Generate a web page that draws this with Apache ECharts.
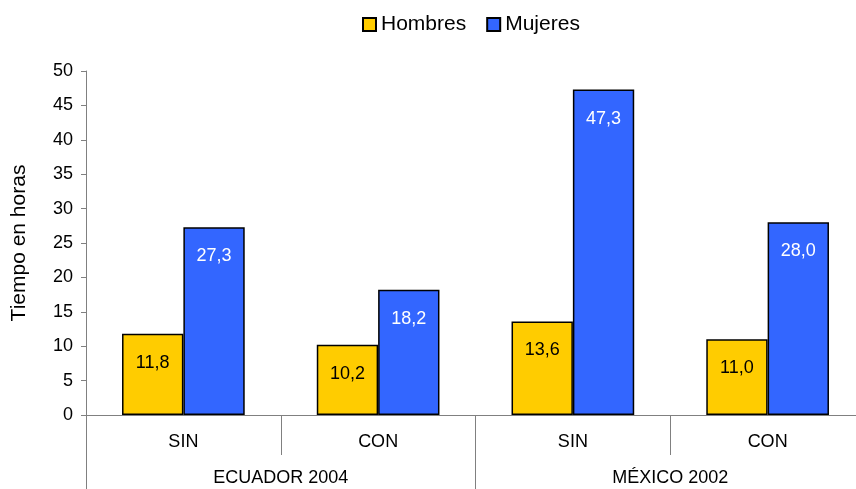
<!DOCTYPE html>
<html><head><meta charset="utf-8">
<script src="https://cdn.jsdelivr.net/npm/echarts@6/dist/echarts.min.js"></script>
<style>html,body{margin:0;padding:0;background:#fff;overflow:hidden}#c{width:865px;height:489px}</style>
</head><body><div id="c"></div>
<script>
const subCategories = ['SIN', 'CON', 'SIN', 'CON'];
const groupCategories = ['ECUADOR 2004', 'MÉXICO 2002'];
const hombres = [11.8, 10.2, 13.6, 11.0];
const mujeres = [27.3, 18.2, 47.3, 28.0];
const seriesNames = ['Hombres', 'Mujeres'];
const yTitle = 'Tiempo en horas';

const FONT = 'Liberation Sans, Arial, sans-serif';
const fmt = p => p.value.toFixed(1).replace('.', ',');
const chart = echarts.init(document.getElementById('c'), null, {renderer: 'canvas'});
chart.setOption({
  animation: false,
  textStyle: {fontFamily: FONT},
  legend: {
    top: 14, left: 362, padding: 0, itemWidth: 13, itemHeight: 13, itemGap: 20,
    textStyle: {fontSize: 21, color: '#000', fontFamily: FONT},
    itemStyle: {borderColor: '#000', borderWidth: 2},
    data: seriesNames.map(n => ({name: n, icon: 'rect'}))
  },
  grid: {left: 86, right: 0, top: 71, bottom: 74, containLabel: false, outerBoundsMode: 'none'},
  xAxis: [{
    type: 'category', data: subCategories, position: 'bottom',
    axisLine: {show: true, lineStyle: {color: '#808080', width: 1}},
    axisTick: {show: true, length: 40, lineStyle: {color: '#808080', width: 1}},
    axisLabel: {margin: 18, fontSize: 18, color: '#000', fontFamily: FONT}
  }, {
    type: 'category', data: groupCategories, position: 'bottom',
    axisLine: {show: false},
    axisTick: {show: true, length: 74, lineStyle: {color: '#808080', width: 1}},
    axisLabel: {margin: 54, fontSize: 18, color: '#000', fontFamily: FONT}
  }],
  yAxis: {
    type: 'value', min: 0, max: 50, interval: 5,
    name: yTitle, nameLocation: 'middle', nameGap: 56, nameRotate: 90,
    nameTextStyle: {fontSize: 21, color: '#000', fontFamily: FONT},
    axisLine: {show: true, lineStyle: {color: '#808080'}},
    axisTick: {show: true, length: 5, lineStyle: {color: '#808080'}},
    axisLabel: {fontSize: 18, color: '#000', margin: 13, fontFamily: FONT},
    splitLine: {show: false}
  },
  series: [{
    name: seriesNames[0], type: 'bar', data: hombres, xAxisIndex: 0,
    barGap: '0%', barCategoryGap: '37%',
    itemStyle: {color: '#FFCC00', borderColor: '#000', borderWidth: 1.5},
    label: {show: true, position: 'insideTop', distance: 20, formatter: fmt,
      fontSize: 18, color: '#000', fontFamily: FONT}
  }, {
    name: seriesNames[1], type: 'bar', data: mujeres, xAxisIndex: 0,
    itemStyle: {color: '#3366FF', borderColor: '#000', borderWidth: 1.5},
    label: {show: true, position: 'insideTop', distance: 20, formatter: fmt,
      fontSize: 18, color: '#fff', fontFamily: FONT}
  }]
});
</script></body></html>
